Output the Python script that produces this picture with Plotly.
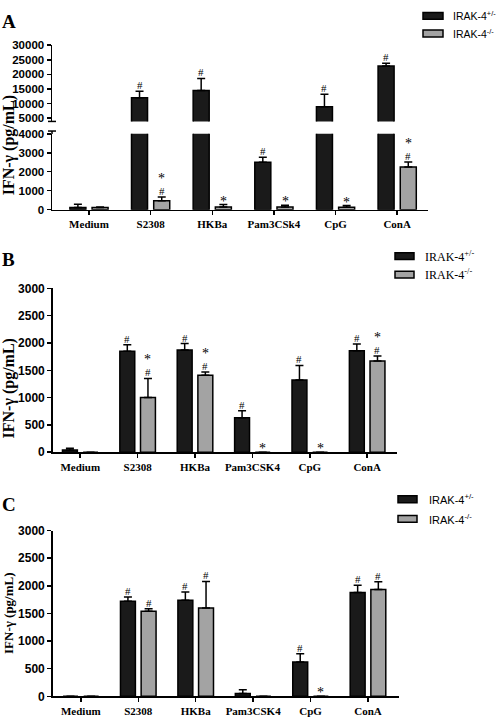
import plotly.graph_objects as go

# ---------------- data ----------------
categories_A = ["Medium", "S2308", "HKBa", "Pam3CSk4", "CpG", "ConA"]
categories_BC = ["Medium", "S2308", "HKBa", "Pam3CSK4", "CpG", "ConA"]
series_names = ["IRAK-4<sup>+/-</sup>", "IRAK-4<sup>-/-</sup>"]

A_het = [120, 12000, 14500, 2500, 8900, 22900]
A_het_err = [170, 2200, 4100, 260, 4300, 900]
A_ko = [110, 470, 140, 140, 130, 2250]
A_ko_err = [30, 200, 130, 90, 90, 260]
A_het_marks = ["", "#", "#", "#", "#", "#"]
A_ko_marks = ["", "#*", "*", "*", "*", "#*"]

B_het = [40, 1850, 1870, 630, 1320, 1860]
B_het_err = [30, 120, 120, 130, 270, 120]
B_ko = [0, 1000, 1410, 0, 0, 1670]
B_ko_err = [0, 350, 60, 0, 0, 90]
B_het_marks = ["", "#", "#", "#", "#", "#"]
B_ko_marks = ["", "#*", "#*", "*", "*", "#*"]

C_het = [0, 1720, 1740, 50, 620, 1880]
C_het_err = [0, 80, 150, 70, 150, 130]
C_ko = [0, 1540, 1600, 0, 0, 1935]
C_ko_err = [0, 45, 480, 0, 0, 140]
C_het_marks = ["", "#", "#", "", "#", "#"]
C_ko_marks = ["", "#", "#", "", "*", "#"]

A_upper_ticks = [5000, 10000, 15000, 20000, 25000, 30000]
A_lower_ticks = [0, 1000, 2000, 3000, 4000]
BC_ticks = [0, 500, 1000, 1500, 2000, 2500, 3000]

# ---------------- style ----------------
W, H = 500, 720
BLACK = "#1a1a1a"
GRAY = "#a3a3a3"
BAR_W = 0.26
OFF_HET = -0.31
OFF_KO = 0.05
SERIF = "Liberation Serif"
SANS = "Liberation Sans"


def px(xp):
    return xp / W


def py(yp):
    return 1 - yp / H


fig = go.Figure()
xs = list(range(6))


def add_bars(vals, errs, color, offset, xa, ya):
    fig.add_trace(go.Bar(
        x=xs, y=vals, width=BAR_W, offset=offset,
        xaxis=xa, yaxis=ya,
        marker=dict(color=color, line=dict(color="black", width=1.5)),
        error_y=dict(type="data", symmetric=False, array=errs,
                     arrayminus=[0] * len(errs), color="black",
                     thickness=1.5, width=4),
        showlegend=False, hoverinfo="skip",
    ))


# Panel A (broken axis)
add_bars(A_het, A_het_err, BLACK, OFF_HET, "x", "y")
add_bars(A_ko, A_ko_err, GRAY, OFF_KO, "x", "y")
add_bars(A_het, A_het_err, BLACK, OFF_HET, "x", "y2")
# Panel B
add_bars(B_het, B_het_err, BLACK, OFF_HET, "x2", "y3")
add_bars(B_ko, B_ko_err, GRAY, OFF_KO, "x2", "y3")
# Panel C
add_bars(C_het, C_het_err, BLACK, OFF_HET, "x3", "y4")
add_bars(C_ko, C_ko_err, GRAY, OFF_KO, "x3", "y4")

annotations = []
shapes = []


def add_marks(vals, errs, marks, offset, xref, yref_fn):
    for i, (v, e, m) in enumerate(zip(vals, errs, marks)):
        if not m:
            continue
        top = v + e
        yref = yref_fn(top)
        xc = i + offset + BAR_W / 2
        for k, ch in enumerate(m):
            if ch == "#":
                shift, size = -2, 11
            else:
                shift, size = (9 if k > 0 else -6), 14
            annotations.append(dict(
                x=xc, y=top, xref=xref, yref=yref, text=ch,
                showarrow=False, yanchor="bottom", yshift=shift,
                font=dict(family=SERIF, size=size, color="#000000"),
            ))


add_marks(A_het, A_het_err, A_het_marks, OFF_HET, "x", lambda t: "y2" if t > 4000 else "y")
add_marks(A_ko, A_ko_err, A_ko_marks, OFF_KO, "x", lambda t: "y")
add_marks(B_het, B_het_err, B_het_marks, OFF_HET, "x2", lambda t: "y3")
add_marks(B_ko, B_ko_err, B_ko_marks, OFF_KO, "x2", lambda t: "y3")
add_marks(C_het, C_het_err, C_het_marks, OFF_HET, "x3", lambda t: "y4")
add_marks(C_ko, C_ko_err, C_ko_marks, OFF_KO, "x3", lambda t: "y4")

# panel letters
for letter, ytop in [("A", 2), ("B", 245), ("C", 495)]:
    annotations.append(dict(x=px(0), y=py(ytop), xref="paper", yref="paper",
                            text="<b>%s</b>" % letter, showarrow=False,
                            xanchor="left", yanchor="top",
                            font=dict(family=SERIF, size=19, color="black")))

# y-axis titles
for yc, fs in [(141, 16), (389, 16), (618, 13)]:
    annotations.append(dict(x=px(9), y=py(yc), xref="paper", yref="paper",
                            text="<b>IFN-γ (pg/mL)</b>", showarrow=False,
                            textangle=-90, xanchor="center", yanchor="middle",
                            font=dict(family=SERIF, size=fs, color="black")))

# legends (swatches + text)
legend_specs = [
    (423, 443, [9, 27], 451, SANS, 10.5),
    (395, 414, [254, 273], 423, SERIF, 12),
    (398, 417, [502, 522], 427, SANS, 11),
]
for x0, x1, ycs, xt, fam, fs in legend_specs:
    for yc, col, name in zip(ycs, [BLACK, GRAY], series_names):
        shapes.append(dict(type="rect", xref="paper", yref="paper",
                           x0=px(x0), x1=px(x1), y0=py(yc - 3.5), y1=py(yc + 3.5),
                           fillcolor=col, line=dict(color="black", width=1.5)))
        annotations.append(dict(x=px(xt), y=py(yc), xref="paper", yref="paper",
                                text=name, showarrow=False, xanchor="left",
                                yanchor="middle",
                                font=dict(family=fam, size=fs, color="black")))

# break marks on panel A y-axis
for yb in [116.7, 126.5]:
    shapes.append(dict(type="line", xref="paper", yref="paper",
                       x0=px(48), x1=px(56), y0=py(yb), y1=py(yb),
                       line=dict(color="black", width=1.5)))
shapes.append(dict(type="line", xref="paper", yref="paper",
                   x0=px(52), x1=px(52), y0=py(126.5), y1=py(129.5),
                   line=dict(color="black", width=1.5)))

common_x = dict(showline=True, linecolor="black", linewidth=1.5, ticks="outside",
                ticklen=4, tickwidth=1.5, tickcolor="black", showgrid=False,
                zeroline=False, tickmode="array", tickvals=xs,
                tickfont=dict(family=SERIF, size=11, color="black"))
common_y = dict(showline=True, linecolor="black", linewidth=1.5, ticks="outside",
                ticklen=4, tickwidth=1.5, tickcolor="black", showgrid=False,
                zeroline=False, tickmode="array", tickformat="d")

fig.update_layout(
    width=W, height=H, autosize=False,
    margin=dict(l=0, r=0, t=0, b=0),
    paper_bgcolor="white", plot_bgcolor="white",
    showlegend=False, barmode="overlay",
    xaxis=dict(common_x, domain=[px(52), px(428)], range=[-0.6, 5.5], anchor="y",
               ticktext=["<b>%s</b>" % c for c in categories_A]),
    yaxis=dict(common_y, domain=[py(206.7), py(129.3)], range=[0, 4000], anchor="x",
               tickvals=A_lower_ticks,
               tickfont=dict(family=SANS, size=11.5, color="black")),
    yaxis2=dict(common_y, domain=[py(116.7), py(39)], range=[3850, 30000], anchor="x",
                tickvals=A_upper_ticks,
                tickfont=dict(family=SANS, size=11.5, color="black")),
    xaxis2=dict(common_x, domain=[px(52.7), px(397)], range=[-0.48, 5.52], anchor="y3",
                ticktext=["<b>%s</b>" % c for c in categories_BC]),
    yaxis3=dict(common_y, domain=[py(454), py(287)], range=[0, 3000], anchor="x2",
                tickvals=BC_ticks,
                tickfont=dict(family=SANS, size=12, color="black")),
    xaxis3=dict(common_x, domain=[px(52.7), px(399)], range=[-0.49, 5.54], anchor="y4",
                ticktext=["<b>%s</b>" % c for c in categories_BC]),
    yaxis4=dict(common_y, domain=[py(703), py(534)], range=[0, 3000], anchor="x3",
                tickvals=BC_ticks,
                tickfont=dict(family=SANS, size=12, color="black")),
    annotations=annotations,
    shapes=shapes,
)

# bold y tick labels
for ax in ["yaxis", "yaxis2", "yaxis3", "yaxis4"]:
    vals = fig.layout[ax].tickvals
    fig.layout[ax].ticktext = ["<b>%d</b>" % v for v in vals]

fig.write_html("out.html",
               config={"displayModeBar": False, "staticPlot": True},
               post_script="document.body.style.margin='0';"
                           "document.documentElement.style.overflow='hidden';")
